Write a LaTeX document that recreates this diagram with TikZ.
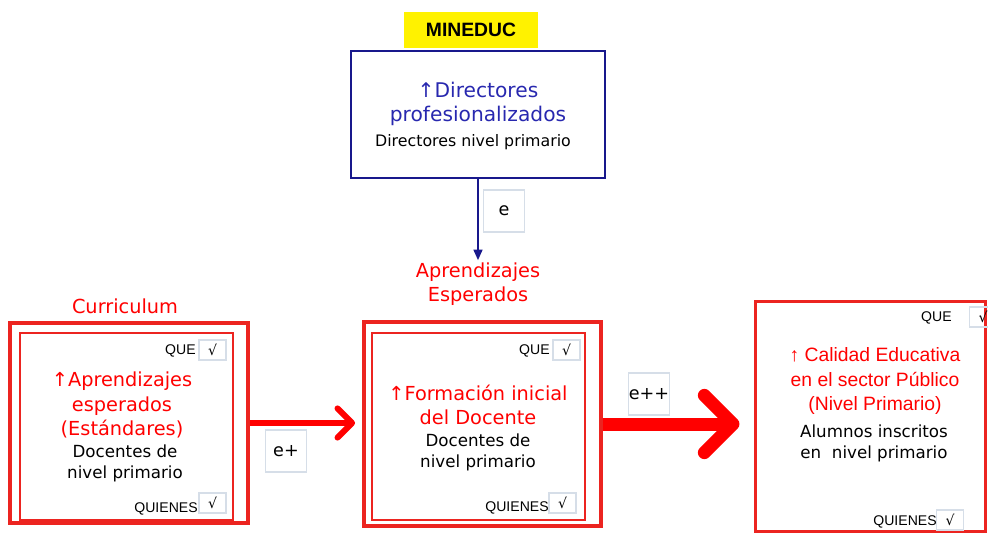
\documentclass[tikz,border=0pt]{standalone}
\usepackage{fontspec}
\setmainfont{DejaVu Sans}
\newfontfamily\arialfont{Liberation Sans}
\usetikzlibrary{arrows.meta,positioning}
\definecolor{boxred}{RGB}{236,36,32}
\definecolor{dirblue}{RGB}{24,24,140}
\definecolor{txtblue}{RGB}{40,40,175}
\definecolor{chkgray}{RGB}{214,222,232}

\begin{document}
\begin{tikzpicture}[x=0.02cm, y=-0.02cm,
    outerbox/.style={draw=boxred, line width=2.2pt, inner sep=0pt},
    innerbox/.style={draw=boxred, line width=0.7pt, inner sep=0pt, minimum width=4.26cm, minimum height=3.74cm},
    chk/.style={draw=chkgray, line width=0.6pt, minimum width=0.54cm, minimum height=0.4cm, inner sep=0pt, font=\fontsize{8}{9}\selectfont},
    tag/.style={font=\arialfont\fontsize{8}{9}\selectfont, inner sep=0pt},
    elabel/.style={draw=chkgray, fill=white, line width=0.6pt, minimum width=0.82cm, minimum height=0.84cm, inner sep=0pt, font=\fontsize{10}{12}\selectfont},
    hdr/.style={text=red, align=center, font=\fontsize{11}{14}\selectfont, inner sep=1pt},
    bigtxt/.style={text=red, align=center, font=\fontsize{11}{14}\selectfont, inner sep=0pt},
    smalltxt/.style={align=center, font=\fontsize{9.5}{12}\selectfont, inner sep=0pt},
    redarr/.style={draw=red, -{Straight Barb[round]}}]
  \useasboundingbox (0,0) rectangle (988,534);

  % ministerio arriba
  \node[fill=yellow, minimum width=2.68cm, minimum height=0.72cm, font=\arialfont\bfseries\fontsize{11}{13}\selectfont] (min) at (471,30) {MINEDUC};
  \node[draw=dirblue, line width=1.4pt, minimum width=5.08cm, minimum height=2.54cm] (dir) at (478,114.5) {};
  \node[text=txtblue, align=center, font=\fontsize{11.5}{14}\selectfont, inner sep=0pt] (dirA) at (478,104) {↑Directores\\profesionalizados};
  \node[smalltxt, font=\fontsize{9}{11}\selectfont] (dirB) at (473,142) {Directores nivel primario};

  \node[hdr] (apr) at (478,284) {Aprendizajes\\Esperados};
  \draw[dirblue, line width=1.1pt, -{Triangle[length=6pt,width=5pt]}] (dir.south) -- (apr.north);
  \node[elabel] (e0) at (504,211) {e};

  % curriculum
  \node[hdr] (curT) at (125,306) {Curriculum};
  \node[outerbox, minimum width=4.76cm, minimum height=4cm] (cur) at (129,423) {};
  \node[innerbox] (curIn) at (126.5,426.5) {};
  \node[bigtxt] (curA) at (122,405) {↑Aprendizajes\\esperados\\(Estándares)};
  \node[smalltxt] (curB) at (125,463.5) {Docentes de\\nivel primario};
  \node[tag, anchor=east] (curQ) at (196,351) {QUE};
  \node[chk] (curQc) at (212.5,350) {√};
  \node[tag, anchor=east] (curW) at (198,509) {QUIENES};
  \node[chk] (curWc) at (212.5,503) {√};

  % formacion docente
  \node[outerbox, minimum width=4.74cm, minimum height=4.08cm] (form) at (482.5,424) {};
  \node[innerbox] (formIn) at (478.5,426.5) {};
  \node[bigtxt] (formA) at (478,405) {↑Formación inicial\\del Docente};
  \node[smalltxt] (formB) at (478,452) {Docentes de\\nivel primario};
  \node[tag, anchor=east] (formQ) at (550,351) {QUE};
  \node[chk] (formQc) at (566.5,350) {√};
  \node[tag, anchor=east] (formW) at (549,508) {QUIENES};
  \node[chk] (formWc) at (562.5,503) {√};

  % calidad educativa
  \node[draw=boxred, line width=1.7pt, minimum width=4.62cm, minimum height=4.62cm] (cal) at (870.5,416.5) {};
  \node[bigtxt, font=\arialfont\fontsize{11}{14.2}\selectfont] (calA) at (875,381) {↑ Calidad Educativa\\en el sector Público\\(Nivel Primario)};
  \node[smalltxt] (calB) at (874,443) {Alumnos inscritos\\en\ \ nivel primario};
  \node[tag, anchor=east] (calQ) at (952,318) {QUE};
  \node[chk] (calQc) at (983,317) {√};
  \node[tag, anchor=east] (calW) at (937,522) {QUIENES};
  \node[chk] (calWc) at (950,520) {√};

  \draw[redarr, line width=3.4pt, shorten >=4pt] (cur.east) -- (cur.east -| form.west);
  \node[elabel] (e1) at (286,451) {e+};
  \draw[redarr, line width=7.4pt, shorten >=8pt] (form.east) -- (form.east -| cal.west);
  \node[elabel] (e2) at (649,394) {e++};
\end{tikzpicture}
\end{document}
